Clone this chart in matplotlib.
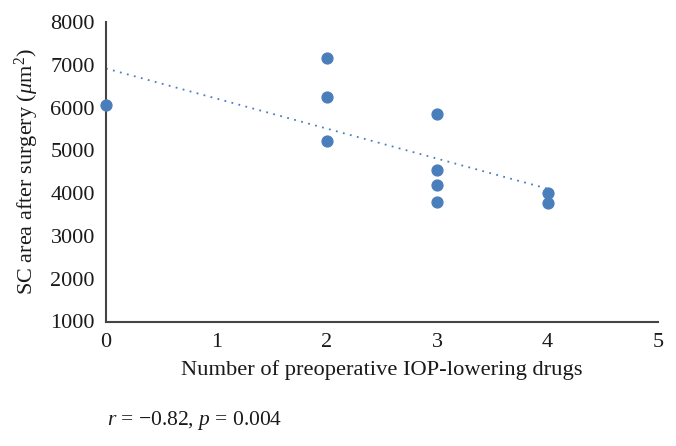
import numpy as np
import matplotlib
matplotlib.use("Agg")
import matplotlib.pyplot as plt

plt.rcParams['font.family'] = ['Liberation Serif', 'DejaVu Serif']
plt.rcParams['mathtext.fontset'] = 'custom'
plt.rcParams['mathtext.rm'] = 'Liberation Serif'
plt.rcParams['mathtext.it'] = 'Liberation Serif:italic'

drugs = [0, 2, 2, 2, 3, 3, 3, 3, 4, 4]
sc_area = [6070, 7170, 6250, 5210, 5860, 4530, 4200, 3800, 4000, 3780]
x_ticks = [0, 1, 2, 3, 4, 5]
y_ticks = [1000, 2000, 3000, 4000, 5000, 6000, 7000, 8000]

blue = '#4a7ebb'

fig = plt.figure(figsize=(6.76, 4.46), dpi=100)
ax = fig.add_axes([106/676, 1 - 321.5/446, (658 - 106)/676, (321.5 - 22)/446])

# trendline
coef = np.polyfit(drugs, sc_area, 1)
xt = np.array([min(drugs), max(drugs)])
ax.plot(xt, np.polyval(coef, xt), linestyle=(0, (1, 3)), color=blue, lw=1.3, zorder=2)

ax.plot(drugs, sc_area, 'o', color=blue, ms=7.8, mec=blue, zorder=3, clip_on=False)

ax.set_xlim(0, 5)
ax.set_ylim(1000, 8000)
ax.set_xticks(x_ticks)
ax.set_yticks(y_ticks)
ax.tick_params(length=0, labelsize=16, colors='#1a1a1a')
ax.tick_params(axis='x', pad=8)
ax.tick_params(axis='y', pad=8)
for s in ['top', 'right']:
    ax.spines[s].set_visible(False)
for s in ['left', 'bottom']:
    ax.spines[s].set_color('#444444')
    ax.spines[s].set_linewidth(1.5)

ax.set_xlabel('Number of preoperative IOP-lowering drugs', fontsize=16.2, labelpad=6, color='#1a1a1a')
ax.set_ylabel(r'SC area after surgery ($\mu$m$^2$)', fontsize=16, labelpad=7, color='#1a1a1a')

fig.text(107/676, 1 - 420/446, r'$r$ = −0.82, $p$ = 0.004', fontsize=15.5, va='center', ha='left', color='#1a1a1a')

fig.savefig('out.png', dpi=100)
